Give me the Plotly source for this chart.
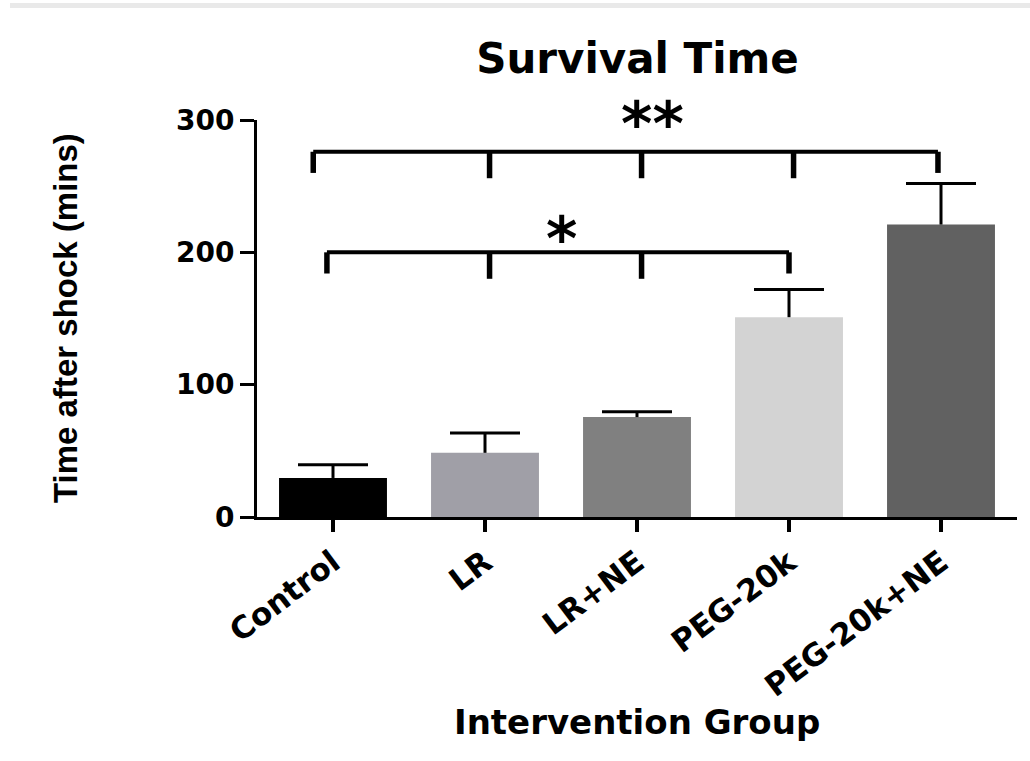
import plotly.graph_objects as go

# ---- data ----
groups = ["Control", "LR", "LR+NE", "PEG-20k", "PEG-20k+NE"]
means = [29.5, 48.5, 75.5, 151, 221]
sem_upper = [10, 15, 4, 21, 31]
bar_colors = ["#000000", "#a09fa7", "#808080", "#d3d3d3", "#616161"]
y_ticks = [0, 100, 200, 300]

# significance brackets: (first group idx, last group idx, height, label)
brackets = [(0, 4, 276, "**"), (0, 3, 200, "*")]
bracket_left_pad = [0.13, 0.04]
bracket_label_x = [2.1, 1.5]
bracket_label_y = [297, 210]

W, H = 1030, 761
L, R, T, B = 257, 13, 120, 244
pw, ph = W - L - R, H - T - B

FONT = "DejaVu Sans"
xs = list(range(len(groups)))

fig = go.Figure()
fig.add_trace(go.Bar(
    x=xs, y=means,
    marker=dict(color=bar_colors, line=dict(width=0)),
    width=0.71,
    showlegend=False, hoverinfo="skip",
))

# upper-only error bars: stems + caps
stem_x, stem_y = [], []
for i, (m, e) in enumerate(zip(means, sem_upper)):
    stem_x += [i, i, None]
    stem_y += [m, m + e, None]
fig.add_trace(go.Scatter(x=stem_x, y=stem_y, mode="lines",
                         line=dict(color="black", width=3),
                         showlegend=False, hoverinfo="skip"))
fig.add_trace(go.Scatter(x=xs, y=[m + e for m, e in zip(means, sem_upper)], mode="markers",
                         marker=dict(symbol="line-ew", size=50, color="black",
                                     line=dict(color="black", width=3)),
                         showlegend=False, hoverinfo="skip"))

shapes = []
# top light-gray rule
shapes.append(dict(type="line", xref="paper", yref="paper",
                   x0=(10 - L) / pw, x1=(W - L) / pw,
                   y0=(H - B - 5.5) / ph, y1=(H - B - 5.5) / ph,
                   line=dict(color="#e9e9e9", width=5)))

for bi, (g0, g1, yb, lab) in enumerate(brackets):
    xl = g0 - bracket_left_pad[bi]
    xr = g1 - (0.02 if bi == 0 else 0.0)
    end_drop = 16
    tick_drop = 20
    shapes.append(dict(type="line", xref="x", yref="y", x0=xl, x1=xr, y0=yb, y1=yb,
                       line=dict(color="black", width=4)))
    for xx in (xl, xr):
        shapes.append(dict(type="line", xref="x", yref="y", x0=xx, x1=xx,
                           y0=yb, y1=yb - end_drop, line=dict(color="black", width=5.5)))
    for gi in range(g0 + 1, g1):
        xx = gi + 0.03
        shapes.append(dict(type="line", xref="x", yref="y", x0=xx, x1=xx,
                           y0=yb, y1=yb - tick_drop, line=dict(color="black", width=5.5)))

annotations = []
for bi, (g0, g1, yb, lab) in enumerate(brackets):
    annotations.append(dict(x=bracket_label_x[bi], y=bracket_label_y[bi], xref="x", yref="y",
                            text=lab, showarrow=False, yanchor="middle",
                            font=dict(family=FONT, size=60, color="black", weight="bold")))

annotations.append(dict(x=0.5, y=(H - B - 722) / ph, xref="paper", yref="paper",
                        text="Intervention Group", showarrow=False, yanchor="middle",
                        font=dict(family=FONT, size=34, color="black", weight="bold")))
annotations.append(dict(x=(65 - L) / pw, y=(H - B - 318) / ph, xref="paper", yref="paper",
                        text="Time after shock (mins)", showarrow=False, textangle=-90,
                        xanchor="center", yanchor="middle",
                        font=dict(family="Liberation Sans", size=33, color="black", weight="bold")))

fig.update_layout(
    width=W, height=H, autosize=False,
    margin=dict(l=L, r=R, t=T, b=B),
    paper_bgcolor="white", plot_bgcolor="white",
    title=dict(text="Survival Time", x=(637.5) / W, xanchor="center",
               y=1 - 58 / H, yanchor="middle", yref="container",
               font=dict(family=FONT, size=42, color="black", weight="bold")),
    shapes=shapes, annotations=annotations,
)
fig.update_xaxes(
    range=[-0.5, 4.5], tickmode="array", tickvals=xs, ticktext=groups,
    tickangle=-37, showline=True, linecolor="black", linewidth=3,
    ticks="outside", ticklen=12, tickwidth=4, tickcolor="black",
    showgrid=False, zeroline=False,
    tickfont=dict(family=FONT, size=31, color="black", weight="bold"),
)
fig.update_yaxes(
    range=[0, 300], tickmode="array", tickvals=y_ticks,
    showline=True, linecolor="black", linewidth=3,
    ticks="outside", ticklen=14, tickwidth=3, tickcolor="black",
    showgrid=False, zeroline=False,
    tickfont=dict(family=FONT, size=28, color="black", weight="bold"),
)

fig.write_html("out.html")
